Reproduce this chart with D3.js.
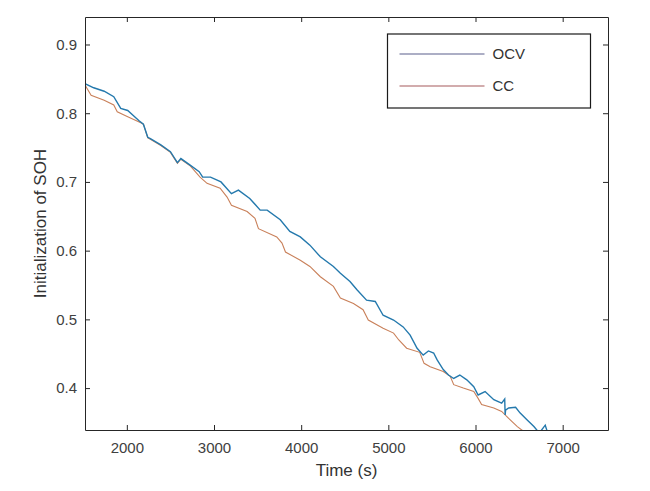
<!DOCTYPE html>
<html>
<head>
<meta charset="utf-8">
<script src="https://cdn.jsdelivr.net/npm/d3@7"></script>
<style>
  body { margin: 0; background: #fff; }
  text { font-family: "Liberation Sans", Arial, sans-serif; }
</style>
</head>
<body>
<div id="chart"></div>
<script>
// OCV estimate (blue)
var ocvTime = [1520, 1620, 1740, 1850, 1930, 2010, 2080, 2140, 2190, 2240, 2270, 2390, 2500, 2580, 2620, 2730, 2830, 2870, 2960, 3080, 3200, 3280, 3410, 3530, 3610, 3760, 3870, 3990, 4100, 4220, 4370, 4450, 4560, 4640, 4750, 4850, 4940, 5060, 5170, 5250, 5330, 5400, 5460, 5520, 5560, 5630, 5690, 5750, 5820, 5900, 5980, 6030, 6110, 6210, 6300, 6335, 6340, 6345, 6380, 6460, 6510, 6590, 6670, 6710, 6740, 6800, 6830];
var ocvSoh  = [0.843, 0.837, 0.832, 0.824, 0.807, 0.804, 0.796, 0.789, 0.784, 0.765, 0.763, 0.754, 0.744, 0.728, 0.734, 0.724, 0.715, 0.707, 0.707, 0.700, 0.683, 0.688, 0.676, 0.659, 0.659, 0.645, 0.628, 0.620, 0.608, 0.591, 0.577, 0.567, 0.555, 0.543, 0.528, 0.526, 0.506, 0.499, 0.489, 0.477, 0.458, 0.448, 0.454, 0.451, 0.441, 0.427, 0.419, 0.414, 0.419, 0.412, 0.402, 0.390, 0.395, 0.383, 0.378, 0.384, 0.361, 0.368, 0.371, 0.372, 0.364, 0.354, 0.344, 0.338, 0.336, 0.346, 0.334];
// Coulomb counting (orange)
var ccTime = [1520, 1590, 1740, 1850, 1890, 2010, 2160, 2190, 2240, 2270, 2390, 2500, 2580, 2620, 2730, 2840, 2920, 3070, 3150, 3200, 3380, 3470, 3510, 3720, 3780, 3820, 3990, 4100, 4220, 4370, 4450, 4600, 4710, 4770, 4940, 5060, 5120, 5210, 5360, 5410, 5480, 5630, 5710, 5750, 5860, 5980, 6030, 6070, 6210, 6300, 6380, 6480, 6530, 6630];
var ccSoh  = [0.841, 0.826, 0.819, 0.812, 0.802, 0.795, 0.786, 0.784, 0.764, 0.762, 0.753, 0.743, 0.727, 0.733, 0.723, 0.707, 0.698, 0.691, 0.678, 0.666, 0.657, 0.647, 0.632, 0.620, 0.611, 0.598, 0.586, 0.577, 0.562, 0.548, 0.531, 0.523, 0.514, 0.499, 0.487, 0.480, 0.470, 0.458, 0.452, 0.436, 0.431, 0.424, 0.417, 0.405, 0.400, 0.395, 0.385, 0.376, 0.371, 0.366, 0.356, 0.344, 0.339, 0.334];

var xTicks = [2000, 3000, 4000, 5000, 6000, 7000];
var yTicks = [0.4, 0.5, 0.6, 0.7, 0.8, 0.9];
var seriesNames = ["OCV", "CC"];

var width = 650, height = 491;
var margin = {top: 17, right: 42, bottom: 61, left: 85};

var svg = d3.select("#chart")
    .append("svg")
        .attr("width", width)
        .attr("height", height);

var x = d3.scaleLinear().domain([1520, 7520]).range([margin.left, width - margin.right]);
var y = d3.scaleLinear().domain([0.339, 0.94]).range([height - margin.bottom, margin.top]);

svg.append("clipPath")
    .attr("id", "plotclip")
    .append("rect")
        .attr("x", x.range()[0])
        .attr("y", y.range()[1])
        .attr("width", x.range()[1] - x.range()[0])
        .attr("height", y.range()[0] - y.range()[1]);

var line = d3.line()
    .x(d => x(d[0]))
    .y(d => y(d[1]));

var ocvData = ocvTime.map((t, i) => [t, ocvSoh[i]]);
var ccData = ccTime.map((t, i) => [t, ccSoh[i]]);

var plot = svg.append("g").attr("clip-path", "url(#plotclip)");

plot.append("path")
    .datum(ccData)
    .attr("d", line)
    .attr("fill", "none")
    .attr("stroke", "#c9805a")
    .attr("stroke-width", 1.1);

plot.append("path")
    .datum(ocvData)
    .attr("d", line)
    .attr("fill", "none")
    .attr("stroke", "#2479ad")
    .attr("stroke-width", 1.4);

// axes, ticks point inward (matlab style)
function styleAxis(g){
    g.selectAll("path").attr("stroke", "#262626");
    g.selectAll("line").attr("stroke", "#262626");
    g.selectAll("text").attr("fill", "#404040").style("font-size", "15px")
        .style("font-family", "'Liberation Sans', Arial, sans-serif");
}

svg.append("g")
    .attr("transform", "translate(0," + y.range()[0] + ")")
    .call(d3.axisBottom(x).tickValues(xTicks).tickSize(-5).tickSizeOuter(0).tickPadding(12).tickFormat(d3.format("d")))
    .call(styleAxis);

svg.append("g")
    .attr("transform", "translate(0," + y.range()[1] + ")")
    .call(d3.axisTop(x).tickValues(xTicks).tickSize(-5).tickSizeOuter(0).tickFormat(""))
    .call(styleAxis);

svg.append("g")
    .attr("transform", "translate(" + x.range()[0] + ",0)")
    .call(d3.axisLeft(y).tickValues(yTicks).tickSize(-5).tickSizeOuter(0).tickPadding(8).tickFormat(d3.format(".1f")))
    .call(styleAxis);

svg.append("g")
    .attr("transform", "translate(" + x.range()[1] + ",0)")
    .call(d3.axisRight(y).tickValues(yTicks).tickSize(-5).tickSizeOuter(0).tickFormat(""))
    .call(styleAxis);

// axis labels
svg.append("text")
    .text("Time (s)")
    .attr("x", (x.range()[0] + x.range()[1]) / 2)
    .attr("y", 476)
    .attr("text-anchor", "middle")
    .attr("fill", "#333")
    .style("font-size", "17px");

svg.append("text")
    .text("Initialization of SOH")
    .attr("transform", "translate(46," + ((y.range()[0] + y.range()[1]) / 2) + ") rotate(-90)")
    .attr("text-anchor", "middle")
    .attr("fill", "#333")
    .style("font-size", "17px");

// legend
var legend = svg.append("g").attr("transform", "translate(387.5,34)");
legend.append("rect")
    .attr("width", 203)
    .attr("height", 74)
    .attr("fill", "#fff")
    .attr("stroke", "#1a1a1a")
    .attr("stroke-width", 1.2);

var legendColors = ["#5a5f8c", "#a65a5c"];
var items = legend.selectAll("g.item")
    .data(seriesNames)
    .enter()
    .append("g")
        .attr("class", "item")
        .attr("transform", (d, i) => "translate(0," + (20 + i * 32) + ")");

items.append("line")
    .attr("x1", 12).attr("x2", 97)
    .attr("y1", 0).attr("y2", 0)
    .attr("stroke", (d, i) => legendColors[i])
    .attr("stroke-width", 1.2);

items.append("text")
    .text(d => d)
    .attr("x", 105)
    .attr("y", 0)
    .attr("dy", "0.35em")
    .attr("fill", "#333")
    .style("font-size", "15px");
</script>
</body>
</html>
